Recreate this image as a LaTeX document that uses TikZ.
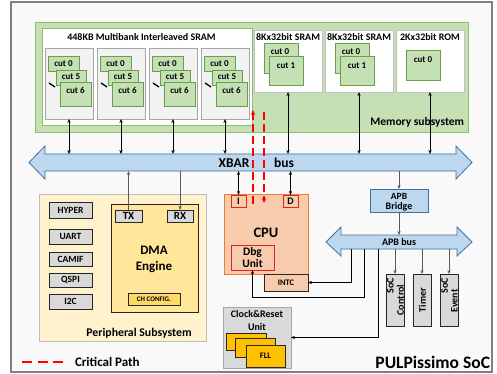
\documentclass[tikz,border=0pt]{standalone}
\usepackage{fontspec}
\setmainfont{Carlito}
\usetikzlibrary{arrows.meta}
\definecolor{memgreen}{HTML}{C5E0B4}
\definecolor{memedge}{HTML}{8FBF6E}
\definecolor{cutedge}{HTML}{6A9F4A}
\definecolor{bankfill}{HTML}{F2F2F2}
\definecolor{bankedge}{HTML}{A6A6A6}
\definecolor{busfill}{HTML}{BDD7EE}
\definecolor{busedge}{HTML}{41719C}
\definecolor{perfill}{HTML}{FFF2CC}
\definecolor{peredge}{HTML}{BFBFBF}
\definecolor{dmafill}{HTML}{FFE699}
\definecolor{chfill}{HTML}{FFD966}
\definecolor{cpufill}{HTML}{F8CBAD}
\definecolor{cpuedge}{HTML}{ED7D31}
\definecolor{portred}{HTML}{E02424}
\definecolor{grayfill}{HTML}{D9D9D9}
\definecolor{fllfill}{HTML}{FFC000}
\definecolor{socbg}{HTML}{F9F9F9}
\definecolor{socedge}{HTML}{808080}
\definecolor{darkline}{HTML}{262626}
\definecolor{cpred}{HTML}{FF0000}
\newcommand\Bx[7][]{\node[anchor=north west,inner sep=0pt,outer sep=0pt,minimum width=#5pt,minimum height=#6pt,#1] (#2) at (#3,#4) {#7};}
\tikzset{
  lab/.style={inner sep=0pt,outer sep=0pt,font=\fontsize{#1}{#1}\selectfont\bfseries},
  mlab/.style={inner sep=0pt,outer sep=0pt,align=center,font=\fontsize{#1}{#1+1.5}\selectfont\bfseries},
  conn/.style={draw=black,line width=0.7pt},
  gconn/.style={draw=black!65,line width=0.9pt},
  bank/.style={draw=bankedge,fill=bankfill,line width=0.8pt},
  cut/.style={draw=cutedge,fill=memgreen,line width=0.8pt,font=\fontsize{9}{9}\selectfont\bfseries},
  mbox/.style={draw=bankedge!70,fill=white,line width=0.8pt},
  gbox/.style={draw=darkline,fill=grayfill,line width=0.8pt,font=\fontsize{9.5}{9.5}\selectfont\bfseries},
  port/.style={draw=portred,fill=cpufill,line width=0.9pt,font=\fontsize{10}{10}\selectfont\bfseries},
  fll/.style={draw=darkline,fill=fllfill,line width=0.8pt},
  crit/.style={draw=cpred,line width=1.8pt,dash pattern=on 8pt off 4pt},
}
\begin{document}
\begin{tikzpicture}[x=1pt,y=-1pt,>={Stealth[length=4pt,width=3.2pt]}]
\useasboundingbox (0,0) rectangle (497,374);
\fill[white] (0,0) rectangle (497,374);
% SoC frame
\Bx[draw=socedge,fill=socbg,line width=1.2pt]{soc}{11}{2}{481}{370}{}
% Memory subsystem
\Bx[draw=memedge,fill=memgreen,line width=1pt]{mem}{35}{23}{433}{110}{}
\Bx[draw=memedge,fill=white,line width=0.8pt]{mb}{42}{28}{210}{97}{}
\node[lab=10] (mbt) at (141.5,37) {448KB Multibank Interleaved SRAM};
\foreach \i/\bx in {1/45,2/97,3/149,4/201}{
  \Bx[bank]{b\i}{\bx}{48}{48}{71}{}
  \Bx[cut]{b\i c0}{\bx+3}{56}{31}{15}{cut 0}
  \Bx[cut]{b\i c5}{\bx+11}{70}{30}{15}{}
  \Bx[cut]{b\i c6}{\bx+15}{82}{31}{24}{}
  \node[lab=9] (b\i t5) at (\bx+26,77) {cut 5};
  \node[lab=9] (b\i t6) at (\bx+30.5,90) {cut 6};
  \draw[line width=1.3pt] (\bx+4,83) -- (\bx+10,87);
}
\foreach \i/\sx in {1/254,2/325}{
  \Bx[mbox]{s\i}{\sx}{30}{68}{62}{}
  \node[lab=10] (s\i t) at (\sx+34,37) {8Kx32bit SRAM};
  \Bx[cut]{s\i c0}{\sx+10}{43}{34}{30}{}
  \Bx[cut]{s\i c1}{\sx+15}{56}{34}{29}{}
  \node[lab=9] (s\i t0) at (\sx+26,52) {cut 0};
  \node[lab=9] (s\i t1) at (\sx+32,66) {cut 1};
}
\Bx[mbox]{rom}{396}{30}{68}{62}{}
\node[lab=10] (romt) at (430,37) {2Kx32bit ROM};
\Bx[cut]{romc0}{406}{50}{34}{30}{}
\node[lab=9] (romt0) at (423,60) {cut 0};
\node[lab=11.5,anchor=east] (memt) at (464,122) {Memory subsystem};
% XBAR bus
\draw[fill=busfill,draw=busedge,line width=0.8pt] (29,162.5) -- (45,146) -- (45,154) -- (456,154) -- (456,146) -- (472,162.5) -- (456,179) -- (456,171) -- (45,171) -- (45,179) -- cycle;
\node[inner sep=0pt,outer sep=0pt,minimum width=411pt,minimum height=17pt] (xbar) at (250.5,162.5) {};
\node[lab=13.5] (xbart) at (234,163) {XBAR};
\node[lab=13.5] (bust) at (284,163) {bus};
\foreach \n in {b1,b2,b3,b4,s1,s2,rom}{
  \draw[conn,<->] (\n.south) -- (\n.south |- xbar.north);
}
% Peripheral subsystem
\Bx[draw=peredge,fill=perfill,line width=0.8pt]{per}{39}{194}{167}{147}{}
\node[lab=11.8] (pert) at (139,333) {Peripheral Subsystem};
\Bx[gbox]{hyper}{49}{202}{43}{16}{HYPER}
\Bx[gbox]{uart}{49}{229}{43}{15}{UART}
\Bx[gbox]{camif}{49}{252}{43}{14}{CAMIF}
\Bx[gbox]{qspi}{49}{273}{43}{14}{QSPI}
\Bx[gbox]{iic}{49}{294}{43}{15}{I2C}
\Bx[draw=darkline,fill=dmafill,line width=0.9pt]{dma}{111}{204}{87}{108}{}
\node[lab=13] (dmat1) at (154,250) {DMA};
\node[lab=13] (dmat2) at (154,267) {Engine};
\Bx[gbox,font=\fontsize{11}{11}\selectfont\bfseries]{tx}{115}{210}{27}{12}{TX}
\Bx[gbox,font=\fontsize{11}{11}\selectfont\bfseries]{rx}{167}{210}{26}{12}{RX}
\Bx[draw=darkline,fill=chfill,line width=0.8pt,font=\fontsize{7}{7}\selectfont\bfseries]{chc}{128}{293}{52}{12}{CH CONFIG.}
\draw[gconn,->] (tx.north) -- (tx.north |- xbar.south);
\draw[gconn,->] (rx.north |- xbar.south) -- (rx.north);
% CPU
\Bx[draw=cpuedge,fill=cpufill,line width=1pt]{cpu}{224}{194}{84}{80}{}
\node[lab=14.5] (cput) at (266,233) {CPU};
\Bx[port]{iport}{231}{195}{15}{12}{I}
\Bx[port]{dport}{283}{195}{15}{12}{D}
\Bx[port,align=center,font=\fontsize{11.5}{12.5}\selectfont\bfseries]{dbg}{231}{245}{43}{25}{Dbg\\Unit}
\Bx[draw=darkline,fill=cpufill,line width=0.8pt,font=\fontsize{8.5}{8.5}\selectfont\bfseries]{intc}{264}{274}{44}{17}{INTC}
\draw[conn,<->] (xbar.south -| iport.north) -- (iport.north);
\draw[conn,<->] (xbar.south -| dport.north) -- (dport.north);
% APB
\Bx[draw=busedge,fill=busfill,line width=0.8pt]{bridge}{370}{189}{58}{23}{}
\node[lab=9.5] (bridget1) at (399,196) {APB};
\node[lab=10] (bridget2) at (399,207) {Bridge};
\draw[gconn,->] (xbar.south -| bridge.north) -- (bridge.north);
\draw[fill=busfill,draw=busedge,line width=0.8pt] (326,242) -- (341,227) -- (341,235) -- (457,235) -- (457,227) -- (472,242) -- (457,256) -- (457,249) -- (341,249) -- (341,256) -- cycle;
\node[inner sep=0pt,outer sep=0pt,minimum width=116pt,minimum height=14pt] (apb) at (399,242) {};
\node[lab=10] (apbt) at (399,242) {APB bus};
\draw[gconn,->] (bridge.south) -- (bridge.south |- apb.north);
\Bx[gbox]{ctrl}{386}{274}{18}{52}{}
\Bx[gbox]{timer}{413}{274}{18}{52}{}
\Bx[gbox]{event}{440}{274}{18}{52}{}
\node[lab=10,rotate=90] (ctrlt1) at (390.5,286) {SoC};
\node[lab=10,rotate=90] (ctrlt2) at (400.5,300) {Control};
\node[lab=10,rotate=90] (timert) at (422.5,300) {Timer};
\node[lab=10,rotate=90] (eventt1) at (444.5,286) {SoC};
\node[lab=10,rotate=90] (eventt2) at (454.5,301) {Event};
\foreach \n in {ctrl,timer,event}{
  \draw[gconn,->] (apb.south -| \n.north) -- (\n.north);
}
% Clock & reset
\Bx[draw=bankedge,fill=grayfill,line width=0.8pt]{clock}{223}{307}{68}{61}{}
\node[lab=10] (clockt1) at (257,314) {Clock\&Reset};
\node[lab=10] (clockt2) at (257,327) {Unit};
\Bx[fll]{fll1}{226}{333}{40}{17}{}
\Bx[fll]{fll2}{235}{338}{40}{19}{}
\Bx[fll,font=\fontsize{8.5}{8.5}\selectfont\bfseries]{fll3}{246}{345}{39}{22}{FLL}
% APB side connections
\draw[conn,->] ([xshift=10pt]apb.south west) |- (intc.east);
\draw[conn,->] ([xshift=23pt]apb.south west) -- ++(0,48) -| (dbg.south);
\draw[conn,->] ([xshift=37pt]apb.south west) |- (clock.east);
% Critical path
\coordinate (cpa1) at (253,204);
\coordinate (cpa2) at (253,110);
\coordinate (cpb1) at (264,112);
\coordinate (cpb2) at (264,203);
\draw[crit,-{Stealth[length=5pt,width=4.5pt]}] (cpa1) -- (cpa2);
\draw[crit,-{Stealth[length=5pt,width=4.5pt]}] (cpb1) -- (cpb2);
\coordinate (lg1) at (22,362);
\coordinate (lg2) at (63,362);
\draw[draw=cpred,line width=1.8pt,dash pattern=on 10pt off 5.5pt] (lg1) -- (lg2);
\node[lab=13,anchor=west] (lgt) at (75,362) {Critical Path};
\node[lab=17.5,anchor=east] (soct) at (490,362) {PULPissimo SoC};
\end{tikzpicture}
\end{document}
